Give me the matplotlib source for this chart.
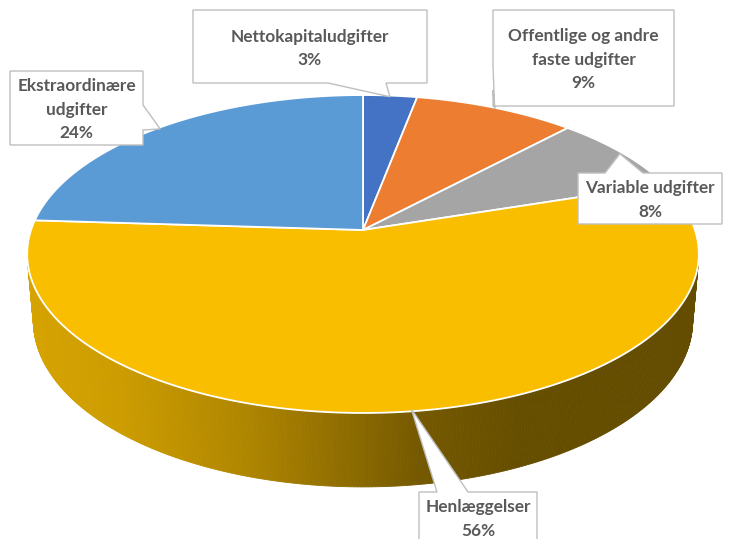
import numpy as np
import matplotlib.pyplot as plt
from matplotlib.patches import Polygon

# data
labels = ["Nettokapitaludgifter", "Offentlige og andre\nfaste udgifter",
          "Variable udgifter", "Henlæggelser", "Ekstraordinære\nudgifter"]
shares = [3, 9, 8, 56, 24]
colors = ["#4472C4", "#ED7D31", "#A5A5A5", "#F9BE00", "#5B9BD5"]

# label boxes (x0, y0, x1, y1) in pixels, wedge side, wedge base
boxes = [(193, 10, 427, 83), (493, 10, 674, 106), (578, 173, 722, 224),
         (419, 492, 537, 552), (10, 71, 143, 145)]
wedges = [("bottom", 328, 386), ("left", 65, 90), ("top", 605, 643),
          ("top", 437, 468), ("right", 105, 130)]
text_y = [48.5, 59.5, 200, 519, 109.5]

# camera for the 3d look
elev = np.radians(27.9)
dist = 5.85
focal = 1942
cx, cy = 363, 230
depth_h = 0.23


def project(x, y, z):
    c, s = np.cos(elev), np.sin(elev)
    d = y * c - z * s + dist
    return cx + focal * x / d, cy - focal * (y * s + z * c) / d


fig = plt.figure(figsize=(7.29, 5.39), dpi=100)
ax = fig.add_axes([0, 0, 1, 1])
ax.set_xlim(0, 729)
ax.set_ylim(539, 0)
ax.axis("off")

fracs = np.array(shares) / sum(shares)
edges = 90 - 360 * np.concatenate([[0], np.cumsum(fracs)])

# side wall (only the front part can be seen)
sil = np.degrees(np.arcsin(-1 / (dist * np.cos(elev))))
t_right, t_left = sil, -180 - sil
base = np.array(plt.matplotlib.colors.to_rgb(colors[3]))
xs_ref = [27, 120, 250, 420, 520, 698]
fs_ref = [0.86, 0.82, 0.70, 0.47, 0.41, 0.40]
ts = np.radians(np.linspace(t_left, t_right, 300))
for a, b in zip(ts[:-1], ts[1:]):
    x1, y1 = project(np.cos(a), np.sin(a), 0)
    x2, y2 = project(np.cos(b), np.sin(b), 0)
    x3, y3 = project(np.cos(b), np.sin(b), -depth_h)
    x4, y4 = project(np.cos(a), np.sin(a), -depth_h)
    f = np.interp((x1 + x2) / 2, xs_ref, fs_ref)
    col = base * f
    ax.add_patch(Polygon([(x1, y1), (x2, y2), (x3, y3), (x4, y4)],
                         closed=True, facecolor=col, edgecolor=col, lw=0.6))

# top face
for i in range(len(shares)):
    t = np.radians(np.linspace(edges[i], edges[i + 1], 200))
    px, py = project(np.cos(t), np.sin(t), 0)
    ox, oy = project(0, 0, 0)
    pts = [(ox, oy)] + list(zip(px, py))
    ax.add_patch(Polygon(pts, closed=True, facecolor=colors[i],
                         edgecolor="white", lw=1.3, joinstyle="round"))

# data labels with callouts
for i in range(len(shares)):
    mid = np.radians((edges[i] + edges[i + 1]) / 2)
    tx, ty = project(0.99 * np.cos(mid), 0.99 * np.sin(mid), 0)
    x0, y0, x1, y1 = boxes[i]
    side, p, q = wedges[i]
    tip = (tx, ty)
    if side == "top":
        verts = [(x0, y0), (p, y0), tip, (q, y0), (x1, y0), (x1, y1), (x0, y1)]
    elif side == "right":
        verts = [(x0, y0), (x1, y0), (x1, p), tip, (x1, q), (x1, y1), (x0, y1)]
    elif side == "bottom":
        verts = [(x0, y0), (x1, y0), (x1, y1), (q, y1), tip, (p, y1), (x0, y1)]
    else:
        verts = [(x0, y0), (x1, y0), (x1, y1), (x0, y1), (x0, q), tip, (x0, p)]
    ax.add_patch(Polygon(verts, closed=True, facecolor="white",
                         edgecolor="#BFBFBF", lw=1.0))
    ax.text((x0 + x1) / 2, text_y[i], f"{labels[i]}\n{shares[i]}%",
            ha="center", va="center", fontsize=12.4, fontweight="bold",
            color="#595959", family="Lato", linespacing=1.6)

fig.savefig("out.png", dpi=100)
